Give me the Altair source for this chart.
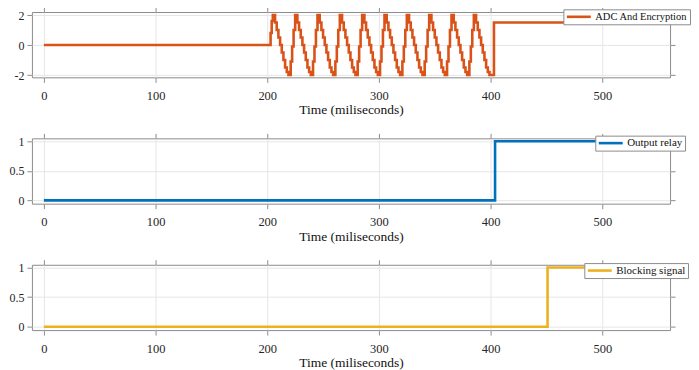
import altair as alt
import pandas as pd

# ---------------- data ----------------
# ADC And Encryption (orange)
adc_lead_t = [0, 203, 204]
adc_lead_v = [0, 0.8, 1.6]
cycle_starts = [205, 225, 245, 265, 285, 305, 325, 345, 365, 385]
cycle_off = [0, 2, 3.5, 5, 6.5, 8, 9.5, 11, 12.5, 14, 16, 17.3, 18.6]
cycle_val = [2, 1.5, 1.0, 0.5, 0.0, -0.5, -1.0, -1.5, -1.8, -2, -1.1, -0.1, 1.0]
adc_tail_t = [403, 560.7]
adc_tail_v = [1.5, 1.5]

# Output relay (blue)
relay_t = [0, 404, 560.7]
relay_v = [0, 1, 1]

# Blocking signal (yellow)
block_t = [0, 451, 560.7]
block_v = [0, 1, 1]

x_ticks = [0, 100, 200, 300, 400, 500]
x_domain = [-10.7, 560.7]

# ---------------- build tables ----------------
adc_t = list(adc_lead_t)
adc_v = list(adc_lead_v)
for i, s in enumerate(cycle_starts):
    last = i == len(cycle_starts) - 1
    for o, v in zip(cycle_off, cycle_val):
        if last and o >= 16:
            continue
        adc_t.append(s + o)
        adc_v.append(v)
adc_t += adc_tail_t
adc_v += adc_tail_v

FONT = "Liberation Serif"
FRAME = "#8c8c8c"


def panel(t, v, name, color, ydom, yticks, lx, ly, lfs):
    df = pd.DataFrame({"t": t, "v": v, "s": name})
    xs = alt.Scale(domain=x_domain, nice=False, zero=False)
    ys = alt.Scale(domain=ydom, nice=False, zero=False)
    line = alt.Chart(df).mark_line(
        strokeWidth=2.6, interpolate="step-after", clip=True
    ).encode(
        x=alt.X("t:Q", scale=xs, axis=alt.Axis(
            values=x_ticks, orient="bottom", title="Time (miliseconds)",
            grid=True, gridColor="#e6e6e6", domain=False,
            tickColor=FRAME, tickSize=5, labelPadding=7,
            labelFont=FONT, labelFontSize=12.5, labelColor="#262626",
            titleFont=FONT, titleFontSize=13.5, titleFontWeight="normal",
            titleColor="#111111", titlePadding=1)),
        y=alt.Y("v:Q", scale=ys, axis=alt.Axis(
            values=yticks, orient="left", title=None,
            labelExpr="datum.value + ''",
            grid=True, gridColor="#e6e6e6", domain=False,
            tickColor=FRAME, tickSize=5, labelPadding=3,
            labelFont=FONT, labelFontSize=12, labelColor="#262626")),
        color=alt.Color("s:N", scale=alt.Scale(domain=[name], range=[color]),
                        legend=alt.Legend(
                            title=None, orient="none", legendX=lx, legendY=ly,
                            fillColor="white", strokeColor=FRAME, padding=2,
                            symbolType="M-3,0H3", symbolSize=64,
                            symbolOffset=8, symbolStrokeWidth=2.6,
                            labelFont=FONT, labelFontSize=lfs,
                            labelColor="#111111", labelOffset=11,
                            cornerRadius=0)),
    )
    ghost = alt.Chart(df).mark_line(opacity=0).encode(
        x=alt.X("t:Q", scale=xs, axis=alt.Axis(
            values=x_ticks, orient="top", labels=False, title=None,
            grid=False, domain=False, tickColor=FRAME, tickSize=5)),
        y=alt.Y("v:Q", scale=ys, axis=alt.Axis(
            values=yticks, orient="right", labels=False, title=None,
            grid=False, domain=False, tickColor=FRAME, tickSize=5)),
    )
    return alt.layer(line, ghost).resolve_axis(
        x="independent", y="independent"
    ).properties(width=640, height=65.5)


p1 = panel(adc_t, adc_v, "ADC And Encryption", "#D95319", [-2.15, 2.2], [-2, 0, 2], 533, -2.7, 10.5)
p2 = panel(relay_t, relay_v, "Output relay", "#0072BD", [-0.055, 1.05], [0, 0.5, 1], 565, -2.7, 11)
p3 = panel(block_t, block_v, "Blocking signal", "#EDB120", [-0.055, 1.045], [0, 0.5, 1], 554, -1.7, 11)

lower = alt.vconcat(p2, p3, spacing=15.8).resolve_scale(
    color="independent").resolve_legend(color="independent")

chart = alt.vconcat(p1, lower, spacing=15.7).resolve_scale(
    color="independent"
).resolve_legend(color="independent").properties(
    padding={"left": 0, "top": -2.5, "right": 0, "bottom": 0}
).configure_view(stroke=FRAME, strokeWidth=1)

chart.save("out.html", embed_options={"renderer": "svg", "actions": False})
